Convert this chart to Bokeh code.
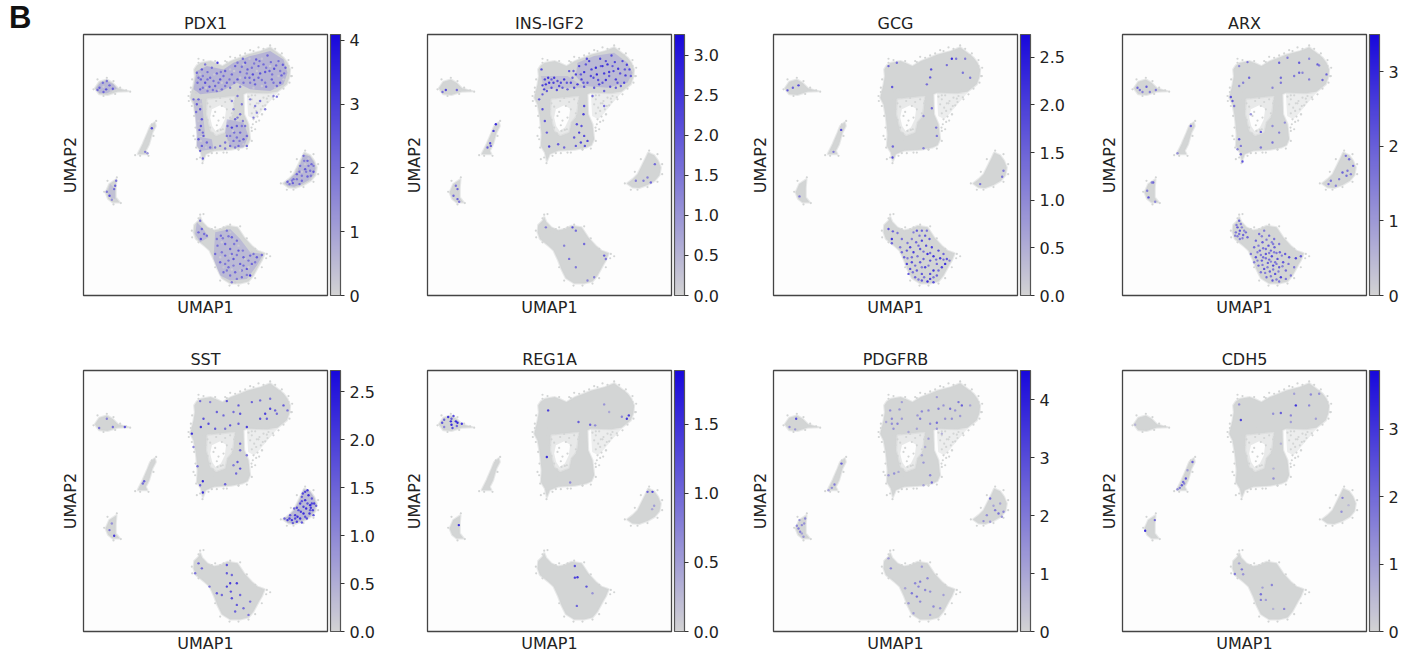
from bokeh.plotting import figure
from bokeh.layouts import row, column
from bokeh.models import LinearColorMapper, ColorBar, FixedTicker, PrintfTickFormatter, Div, ColumnDataSource
from bokeh.transform import transform
from bokeh.embed import file_html
from bokeh.resources import INLINE

GENES = ["PDX1", "INS-IGF2", "GCG", "ARX", "SST", "REG1A", "PDGFRB", "CDH5"]
VMAX = [4.09, 3.26, 2.74, 3.5, 2.72, 1.89, 4.5, 3.87]
TICKS = [[0, 1, 2, 3, 4], [0, .5, 1, 1.5, 2, 2.5, 3], [0, .5, 1, 1.5, 2, 2.5], [0, 1, 2, 3],
         [0, .5, 1, 1.5, 2, 2.5], [0, .5, 1, 1.5], [0, 1, 2, 3, 4], [0, 1, 2, 3]]
TICK_FORMAT = ["%d", "%.1f", "%.1f", "%d", "%.1f", "%.1f", "%d", "%d"]

# Grey cloud of all cells (UMAP position on a 0-732 / 0-785 scale)
MAIN_OUTER = [(332,680),(340,692),(352,700),(382,705),(400,698),(417,690),(442,705),(470,716),(492,725),(532,735),(560,747),(582,730),(600,716),(612,700),
              (620,680),(618,658),(610,635),(582,613),(552,608),(490,610),(480,605),(482,545),(495,515),(500,470),(492,452),(477,445),
              (442,438),(392,435),(367,425),(358,403),(352,430),(340,450),(342,485),(337,535),(330,575),(320,595),
              (330,635),(334,660)]
MAIN_HOLE = [(370,592),(455,600),(448,540),(432,520),(425,490),(398,480),(380,495),(368,545)]
HOLE_CENTRE = [(385,560),(410,572),(428,562),(424,530),(412,505),(396,495),(386,510),(380,535)]
ISLET = [(34,623),(47,643),(70,650),(87,640),(104,623),(137,614),(102,613),(72,603),(47,605)]
STRIP = [(214,522),(217,510),(207,490),(197,455),(187,435),(192,425),(162,425),(177,455),(192,490),(200,510)]
CRESCENT = [(99,350),(97,325),(97,295),(109,280),(87,280),(74,290),(66,310),(77,335)]
RIGHT_LOBE = [(662,430),(680,422),(692,405),(700,385),(696,362),(682,345),(660,332),(635,323),(615,325),(598,337),(615,350),(630,365),(645,395),(655,415)]
BOTTOM = [(350,237),(356,222),(372,205),(392,196),(412,200),(432,210),(462,205),(482,175),(505,150),(522,135),(544,127),(535,105),(527,92),(510,60),
          (495,42),(470,36),(440,36),(415,52),(402,78),(392,105),(378,135),(362,150),(337,170),(330,190),(332,212),(345,225)]
# Loosely filled part of the cloud
LOOSE = [(490,608),(582,610),(552,575),(527,545),(512,530),(494,540)]
SPARSE_X = [360,372,385,398,410,425,440,452,366,380,395,415,430,445,372,390,405,420,380,400,412,388,402,418,392,
            495,505,515,528,540,555,570,585,500,512,525,538,552,568,505,518,532,545,510,522,536,508,518,527,504,
            515,455,470,462,448,435,420,402,378,364,
            345,322,316,425,440,470,500,525,590,615,623,560,505,465,420,385,360,340,
            330,345,520,535,550,380,395,410,560,530,360,368,
            345,360,395,430,455,485,510,540,560,575,595,615,626,625,618,600,
            326,322,315,325,332,336,335,338,350,357,375,400,430,465,490,505,505,
            30,42,70,90,110,128,140,95,60,218,205,155,170,195,210,
            100,62,72,112,90,665,690,704,704,690,660,630,592,610,640,622,
            350,345,325,326,345,385,420,440,470,490,515,550,548,535,515,495,465,438,410,395]
SPARSE_Y = [590,578,596,585,594,582,590,578,560,568,552,570,560,548,528,540,526,535,505,512,498,488,495,500,470,
            598,590,602,585,595,600,590,605,575,565,578,570,582,596,548,555,560,572,530,538,545,515,522,526,505,
            500,585,570,555,540,520,615,612,615,612,
            712,612,585,705,718,722,738,746,722,690,660,620,602,440,430,428,418,410,
            480,510,578,545,592,190,205,200,118,128,245,195,
            700,708,705,702,715,728,735,742,752,742,728,708,685,660,640,622,
            650,625,600,570,540,505,470,445,415,398,420,428,430,438,442,465,495,
            620,650,655,645,625,617,613,606,600,525,515,422,420,420,480,
            355,312,345,278,274,436,425,395,365,342,326,318,337,318,410,372,
            243,232,195,175,160,200,205,213,208,172,140,125,112,85,52,36,30,30,45,85]

# Colour-graded areas where many cells express the gene
AREA_GENE = [0,0,0,0,0,0,0,0,0,1,1,4]
AREA_VALUE = [1.5,1.4,1.3,1.0,1.4,1.4,1.2,1.3,0.9,1.0,0.7,0.8]
AREA_SHAPE = [
    [(340,675),(370,690),(420,680),(450,700),(500,720),(560,735),(600,710),(612,670),(600,635),(560,615),(500,620),(460,640),(410,612),(350,605),(330,620)],
    [(430,530),(480,520),(495,480),(480,445),(440,445),(425,490)],
    [(340,480),(385,470),(390,440),(352,435),(340,450)],
    [(330,590),(355,590),(365,480),(340,480),(335,540)],
    [(36,622),(50,640),(70,645),(90,635),(100,622),(70,608),(48,608)],
    [(660,425),(680,418),(692,400),(696,382),(690,362),(678,348),(655,335),(632,327),(612,330),(604,338),(620,352),(636,368),(650,395)],
    [(395,190),(440,200),(470,170),(500,130),(540,125),(520,90),(490,50),(440,45),(410,60),(390,110)],
    [(340,220),(360,200),(375,175),(350,160),(335,185)],
    [(80,335),(95,320),(95,290),(80,295),(72,310)],
    [(450,700),(500,720),(560,730),(600,700),(615,670),(600,640),(540,625),(470,630),(445,660)],
    [(340,660),(420,660),(450,640),(480,625),(430,625),(350,620)],
    [(660,428),(680,420),(692,402),(697,382),(692,362),(680,347),(655,333),(632,325),(612,328),(602,338),(618,350),(634,368),(648,395)],
]

PDX1_CELLS = [(455,690,2.6),(470,672,2.3),(485,700,2.8),(498,655,2.5),(505,685,2.2),(518,710,2.7),(530,668,2.9),(540,695,2.4),(552,722,2.5),(565,650,2.7),
    (572,682,3.0),(585,705,2.3),(594,662,2.6),(606,685,2.5),(480,640,2.2),(515,635,2.6),(548,628,2.4),(580,630,2.3),(462,650,2.9),(508,665,3.1),
    (535,648,2.2),(558,675,2.6),(590,640,2.8),(445,665,2.4),(430,640,2.5),(425,675,2.6),(410,650,2.9),(395,630,2.5),(380,655,2.4),(365,640,3.0),
    (350,620,2.6),(340,670,2.5),(355,680,2.8),(372,672,2.3),(388,618,2.2),(402,700,3.6),(492,680,2.7),(478,712,2.4),(525,690,2.6),(545,672,2.8),
    (562,702,2.3),(598,694,2.7),(512,648,2.4),(470,628,2.1),(440,625,2.3),(378,628,2.7),(352,650,2.6),(400,668,2.5),(342,640,2.3),(415,620,2.2),
    (330,590,2.5),(340,575,2.8),(350,560,3.1),(355,530,2.9),(352,510,3.0),(345,590,2.6),(358,490,2.4),(338,552,2.3),(348,498,2.6),
    (345,470,2.9),(355,450,2.7),(370,460,2.5),(380,445,2.3),(360,480,2.8),(350,435,2.6),(358,412,2.8),(395,445,2.0),(410,450,2.1),(425,442,2.2),
    (445,505,3.4),(455,530,2.6),(470,490,2.5),(480,470,2.7),(450,465,2.4),(430,480,2.2),(465,450,2.5),(485,510,2.3),(440,450,2.4),(425,460,2.3),
    (470,545,2.4),(490,450,2.6),(490,480,2.5),(460,510,2.7),(475,575,2.2),(462,600,2.2),(445,585,2.0),
    (500,590,2.0),(515,570,2.1),(530,585,2.3),(520,550,2.1),(545,560,2.2),(570,600,2.0),(510,535,2.2),(580,598,2.3),
    (48,625,2.6),(58,640,2.3),(68,620,2.9),(78,632,2.4),(88,622,2.7),(60,612,2.5),(70,645,2.2),(42,618,2.4),
    (205,503,3.2),(185,432,2.0),(192,428,1.5),
    (98,345,2.3),(92,320,2.4),(78,300,3.1),(85,288,1.6),(70,312,2.2),(95,330,2.7),
    (660,420,2.3),(672,405,2.6),(684,395,2.4),(690,372,2.7),(665,380,2.8),(650,390,2.3),(640,365,2.5),(672,358,2.6),(655,345,2.4),(628,338,2.7),
    (612,342,2.6),(630,350,2.3),(680,375,2.2),(648,335,2.4),
    (350,225,2.2),(355,200,2.6),(345,190,2.4),(362,185,2.3),(352,170,3.0),(370,180,2.4),
    (412,180,2.5),(430,195,2.3),(445,175,2.6),(460,165,2.4),(402,150,2.3),(425,155,2.7),(440,140,2.6),(465,135,2.8),(480,115,2.6),(500,120,2.4),
    (520,115,2.7),(535,122,2.3),(505,95,2.5),(490,80,2.8),(470,95,2.6),(450,110,2.9),(425,120,2.4),(410,100,2.5),(435,85,2.3),(455,70,2.5),
    (475,55,2.4),(500,60,3.6),(440,60,2.2),(420,70,2.3),(395,125,2.4),
    (462,700,2.0),(475,688,2.2),(490,668,2.1),(512,698,2.0),(528,705,2.3),(548,685,2.1),(566,665,2.2),(578,692,2.4),(590,675,2.0),(602,668,2.2),
    (525,655,2.4),(545,640,2.1),(570,640,2.2),(500,640,2.0),(485,655,2.3),(452,640,2.0),(438,650,2.2),(420,660,2.3),(405,640,2.1),(390,645,2.2),
    (372,650,2.3),(358,660,2.0),(345,655,2.2),(358,625,2.2),(372,615,2.0),(400,615,2.0),(425,630,2.1),(412,672,2.0),(385,685,2.3),(365,695,2.2),
    (450,560,2.0),(462,535,2.2),(478,525,2.0),(452,490,2.3),(440,480,2.0),(460,475,2.2),(475,510,2.1),(432,510,2.3),(468,465,2.0),(455,445,2.0),
    (418,172,2.0),(435,178,2.2),(452,155,2.1),(415,130,2.0),(435,105,2.2),(460,122,2.0),(478,135,2.1),(495,105,2.2),(515,100,2.0),(475,75,2.2),
    (450,90,2.0),(425,95,2.1),(460,50,2.0),(480,90,2.3),(400,170,2.0),(445,125,2.3),(510,125,2.2),(490,62,2.0),(430,75,2.1),(445,40,2.0),
    (625,345,2.0),(640,350,2.2),(655,360,2.1),(668,372,2.0),(675,390,2.2),(662,405,2.0),(648,372,2.3),(682,360,2.0),(690,390,2.1),(618,335,2.2),
    # cells that stay near zero inside the coloured areas
    (480,695,0.1),(498,712,0.2),(520,675,0.1),(535,712,0.2),(560,690,0.1),(585,660,0.2),(600,650,0.1),(510,625,0.2),(470,655,0.1),(440,680,0.2),
    (415,640,0.1),(392,665,0.2),(368,625,0.1),(350,665,0.2),(338,610,0.1),(465,620,0.2),(535,630,0.1),(575,625,0.2),(452,675,0.1),(405,618,0.2),
    (448,495,0.1),(470,525,0.2),(440,535,0.1),(480,455,0.2),(435,462,0.1),(368,445,0.2),(352,465,0.1),(345,525,0.2),(352,575,0.1),
    (415,160,0.1),(440,190,0.2),(465,150,0.1),(440,120,0.2),(410,115,0.1),(485,110,0.2),(505,130,0.1),(470,75,0.2),(445,78,0.1),(420,85,0.2),(495,85,0.1),(455,40,0.2),
    (640,378,0.1),(665,395,0.2),(655,372,0.1),(680,350,0.2),(620,342,0.1),(675,412,0.2),(60,628,0.1),(82,615,0.2)]
INS_CELLS = [(455,690,2.6),(470,672,2.9),(485,705,2.7),(498,655,2.4),(505,685,3.1),(518,712,2.6),(530,668,2.8),(540,695,3.0),(552,722,2.5),(565,650,2.7),
    (572,682,2.9),(585,705,2.5),(594,662,2.7),(606,680,2.6),(480,640,2.3),(515,635,2.6),(548,628,2.4),(580,630,2.3),(462,650,2.8),(508,665,3.2),
    (535,648,2.9),(558,675,2.6),(590,640,2.5),(445,665,2.7),(430,640,2.6),(425,675,2.3),(410,650,2.9),(395,630,2.5),(380,655,2.8),(365,640,3.0),
    (350,620,2.7),(342,680,2.6),(355,635,2.9),(372,625,2.4),(388,618,2.5),(492,680,2.7),(478,712,2.4),(525,690,2.9),(545,672,2.8),(562,702,2.6),
    (598,694,2.7),(512,648,2.4),(470,628,2.3),(440,625,2.5),(378,640,2.7),(352,650,2.6),(400,640,2.5),(420,620,2.2),(450,635,2.8),(500,625,2.3),
    (530,615,2.1),(565,625,2.2),(345,632,2.8),(362,655,2.9),(345,605,2.3),
    (475,695,2.3),(490,660,2.5),(520,690,2.2),(535,705,2.4),(555,690,2.2),(578,668,2.4),(592,680,2.2),(525,640,2.3),(545,660,2.2),(570,640,2.3),
    (468,640,2.2),(435,655,2.2),(418,640,2.3),(405,625,2.2),(390,645,2.4),(372,650,2.2),(358,615,2.3),(438,675,2.1),(460,665,2.2),(610,660,2.1),
    (335,590,2.2),(345,560,2.5),(352,525,2.4),(358,490,2.2),(470,570,2.6),(468,545,2.8),(462,510,2.4),(448,515,2.5),(455,490,2.8),(470,480,2.5),
    (480,465,2.7),(460,460,2.6),(445,450,2.3),(472,450,2.4),(365,448,2.7),(392,455,2.2),(410,445,2.0),(440,475,2.3),(530,570,1.9),(495,600,2.0),
    (55,618,2.6),(45,612,1.9),(88,618,2.0),
    (205,515,3.2),(198,495,2.7),(188,458,2.5),(180,445,2.2),(190,450,2.0),
    (90,320,2.1),(85,330,1.8),(78,300,2.0),(90,290,2.2),(95,282,1.8),
    (682,395,2.0),(670,340,2.0),(648,345,1.6),(625,345,1.6),(660,355,1.5),
    (355,205,1.6),(435,205,2.5),(445,195,2.0),(470,155,2.0),(425,110,1.8),(445,85,1.7),(480,45,1.5),(530,120,2.2),(535,110,1.7),(500,55,1.5),(410,150,1.6)]
GCG_CELLS = [(345,690,1.8),(370,700,1.6),(535,712,2.6),(548,712,1.5),(575,712,1.4),(473,680,2.1),(470,656,1.9),(460,635,1.6),(520,693,1.6),(568,670,1.5),
    (590,655,1.5),(356,627,2.0),(475,563,1.7),(450,540,1.3),(488,505,1.5),(490,480,1.5),(358,448,1.7),(450,443,1.3),(357,415,2.1),
    (42,617,2.0),(58,625,1.8),(75,632,2.1),(203,498,2.1),(180,432,1.4),(78,298,1.4),(620,335,1.5),(686,357,1.5),(690,375,1.4),
    (345,200,2.0),(358,193,1.8),(355,170,2.5),(372,188,1.5),(355,157,1.8),(385,170,1.6),(430,195,2.0),(420,190,1.4),(445,195,1.8),(455,180,2.0),
    (468,170,1.9),(445,165,2.3),(428,160,1.7),(410,145,2.2),(400,135,1.9),(420,130,2.4),(440,140,2.0),(458,150,2.2),(475,145,2.3),(495,135,2.1),
    (510,125,1.8),(520,110,2.0),(500,112,2.4),(480,118,2.5),(462,125,2.6),(450,110,1.8),(470,105,2.0),(440,100,1.9),(415,100,2.1),(400,95,2.3),
    (392,115,1.8),(410,80,2.1),(430,75,1.9),(455,85,2.2),(480,75,2.5),(505,85,2.3),(490,60,1.8),(470,50,2.3),(480,40,2.1),(462,42,2.6),
    (445,45,1.9),(425,55,1.7),(445,65,2.0),(405,65,2.0),(470,65,2.1),(490,95,1.7),(515,95,2.6),(528,105,1.4),(385,130,1.6),(380,145,1.5),
    (438,180,1.5),(460,195,1.6),(415,170,1.4),(402,158,1.5),(435,150,1.6),(450,132,1.5),(470,128,1.6),(488,108,1.5),(510,108,1.6),(432,118,1.5),
    (415,115,1.6),(402,112,1.4),(425,90,1.6),(445,85,1.4),(465,90,1.5),(495,75,1.6),(480,55,1.5),(452,55,1.5),(435,48,1.4),(418,70,1.5)]
ARX_CELLS = [(375,702,1.9),(350,690,1.5),(470,700,2.3),(495,715,1.7),(530,700,2.4),(560,712,1.5),(590,692,1.8),(612,665,2.3),(600,648,2.1),(585,695,2.4),
    (530,670,2.2),(515,660,1.8),(540,670,1.6),(475,655,2.1),(475,640,1.9),(560,650,1.7),(380,655,2.2),(362,640,1.7),(350,630,1.5),(450,625,1.6),
    (325,597,2.6),(330,585,2.4),(335,570,1.9),(385,545,1.3),(415,492,2.5),(487,520,1.4),(450,510,1.5),(350,470,2.4),(355,450,1.8),(360,403,2.7),
    (355,425,2.2),(450,460,2.0),(470,490,1.7),(415,445,1.8),(345,440,1.6),
    (45,625,2.2),(52,618,1.9),(72,628,2.4),(82,612,1.7),(100,618,1.8),(60,612,1.6),(205,510,2.4),(165,428,1.4),
    (92,340,2.3),(78,295,2.6),(74,315,1.8),(98,282,1.5),(88,340,1.6),
    (670,420,1.9),(680,410,2.0),(692,390,2.2),(675,375,1.9),(660,370,2.3),(672,360,2.1),(650,350,1.7),(625,345,1.9),(618,335,2.0),(640,330,1.6),(685,365,1.7),
    (350,225,2.2),(345,205,2.4),(352,195,2.6),(362,182,2.2),(340,190,1.9),(370,190,2.0),(352,170,1.8),(375,175,2.2),(345,178,1.7),(358,205,1.6),
    (410,185,2.0),(425,195,1.8),(440,180,2.1),(455,170,2.0),(470,155,1.9),(400,165,2.2),(420,160,2.4),(438,150,2.6),(456,145,2.3),(472,130,2.2),
    (488,125,2.4),(500,115,2.6),(520,112,2.8),(535,118,2.3),(395,145,2.1),(412,135,2.3),(430,125,2.5),(448,118,2.7),(465,110,2.6),(482,100,2.5),
    (498,95,2.0),(515,85,1.8),(385,125,1.9),(400,115,2.6),(418,105,2.4),(436,98,2.3),(452,90,2.8),(470,85,2.4),(490,75,2.1),(505,60,1.8),
    (408,90,2.2),(425,80,2.5),(442,72,2.3),(458,65,2.6),(475,55,2.9),(490,50,1.9),(415,70,1.9),(432,55,2.1),(450,45,2.5),(470,42,1.9),
    (430,140,2.0),(445,135,2.2),(462,128,1.8),(422,115,2.0),(440,108,2.1),(458,100,1.9),(478,120,1.7),(408,150,1.8),(395,100,1.7),(452,155,1.8),
    (418,178,1.7),(432,168,1.8),(448,160,1.6),(405,130,1.7),(422,142,1.9),(440,128,1.8),(455,130,1.7),(415,122,1.8),(430,112,1.9),(445,102,1.7),
    (405,105,1.7),(420,92,1.8),(435,85,1.7),(452,78,1.8),(468,72,1.7),(480,88,1.6),(462,95,1.8),(428,68,1.7),(445,58,1.8),(462,48,1.7),
    (342,212,1.8),(355,215,1.7),(350,185,1.9),(365,195,1.6),(338,180,1.7),(360,172,1.7)]
SST_CELLS = [(350,693,1.6),(380,690,1.3),(430,693,2.1),(465,680,1.9),(505,690,1.8),(530,695,1.6),(560,700,1.5),(600,680,1.9),(612,665,1.5),(560,670,2.2),
    (575,665,1.8),(545,655,2.3),(470,655,2.0),(450,660,1.6),(400,660,1.8),(420,650,1.7),(352,615,2.4),(375,625,2.1),(395,610,1.9),(360,640,2.0),
    (490,615,2.3),(465,625,1.8),(440,620,2.0),(425,610,1.5),(530,640,2.0),(550,640,1.8),(580,655,1.6),(325,595,2.6),(330,555,1.3),(342,497,1.6),
    (358,452,2.7),(358,418,2.6),(350,440,1.8),(470,565,1.8),(470,545,1.6),(490,530,1.5),(462,510,1.9),(450,500,1.4),(470,490,2.0),(458,475,1.7),
    (425,443,1.8),(47,612,1.5),(70,640,1.3),(88,615,1.6),(124,615,2.0),(182,452,1.8),(178,445,1.6),(78,305,1.5),(92,288,2.4),(85,325,1.1),
    (345,205,1.8),(355,190,1.7),(335,175,1.5),(430,200,2.0),(430,175,1.9),(445,170,1.7),(440,145,2.4),(460,145,2.3),(430,135,2.2),(400,115,1.9),
    (415,110,1.7),(442,120,2.0),(445,100,2.1),(470,110,1.7),(460,80,1.9),(455,60,1.8),(480,70,1.6),(500,90,1.5),(495,50,1.5),(378,135,1.5),
    (665,420,2.2),(675,410,2.5),(685,400,1.9),(692,385,2.3),(680,380,2.6),(665,395,2.4),(655,405,1.8),(650,385,2.3),(668,370,2.5),(688,365,2.2),
    (678,355,2.4),(660,355,2.6),(645,365,2.0),(635,350,2.3),(650,340,2.5),(670,340,2.1),(625,335,2.4),(612,335,2.3),(640,330,2.2),(620,350,1.9),
    (632,370,1.7),(655,328,2.0),(690,350,2.0),(672,425,2.4),(660,375,2.2),(642,345,2.5),(682,372,2.3),(698,378,1.8),(603,340,1.7),(628,326,1.9),
    (658,415,2.1),(672,385,2.0),(655,392,1.9),(640,372,2.2),(652,360,2.3),(665,345,2.0),(685,385,2.2),(680,365,1.9),(635,340,2.1),(618,340,2.2)]
REG1A_CELLS = [(362,665,1.6),(358,525,1.8),(453,630,1.3),(488,622,1.2),(503,620,0.8),(530,683,0.7),(545,660,0.5),(583,646,0.9),(604,650,1.6),(598,640,1.7),
    (428,448,0.8),(44,628,1.4),(50,637,1.2),(62,645,1.7),(70,632,1.8),(72,622,1.9),(78,648,1.5),(85,632,1.8),(90,628,1.9),(75,612,1.4),(88,618,1.2),(103,625,1.7),(72,640,1.3),(50,615,0.9),
    (94,320,1.8),(660,420,1.2),(675,420,1.5),(680,378,0.6),(674,368,0.5),
    (442,197,1.4),(442,162,1.6),(450,163,1.7),(477,135,1.4),(495,115,0.7),(448,77,1.2)]
PDGFRB_CELLS = [(350,665,1.8),(378,668,1.6),(355,640,2.0),(372,625,2.1),(360,610,1.7),(385,640,1.5),(355,625,1.8),(338,630,1.2),(385,690,1.4),(440,640,2.3),
    (445,662,2.0),(432,650,1.6),(465,665,1.9),(490,705,1.4),(495,670,2.2),(510,680,1.7),(530,670,2.5),(555,690,2.4),(565,680,3.1),(545,665,1.6),
    (470,625,1.8),(490,628,2.6),(515,640,1.7),(535,640,1.8),(560,648,1.5),(590,680,1.3),(430,610,1.3),(405,600,1.2),(465,580,1.5),(455,555,1.2),
    (490,610,1.6),(505,595,1.0),(445,530,1.2),(450,508,1.6),(470,470,2.0),(475,448,2.5),(362,475,1.8),(345,470,1.4),(375,480,1.2),(450,440,1.3),
    (68,640,3.5),(48,615,1.8),(65,608,1.6),(204,505,3.0),(183,442,2.3),(175,432,1.8),(165,425,1.3),
    (95,340,2.0),(78,335,1.7),(85,320,1.9),(75,310,2.3),(80,300,2.2),(90,285,1.6),(70,318,2.0),(92,325,1.7),(85,295,1.4),
    (650,400,2.7),(675,355,2.6),(665,365,2.2),(690,360,2.0),(640,350,1.8),(650,330,1.5),(630,332,1.7),(660,378,1.3),(680,385,1.3),(685,345,1.7),
    (352,190,2.0),(345,220,1.5),(440,150,2.3),(425,145,2.0),(415,115,2.4),(430,105,2.6),(440,90,1.9),(455,125,2.0),(470,120,1.8),(480,75,1.9),
    (500,70,1.5),(445,195,1.5),(462,160,1.9),(435,135,2.0),(405,85,1.5),(420,55,1.4),(470,50,1.3),(395,130,1.3),(510,110,1.4)]
CDH5_CELLS = [(350,683,1.5),(515,715,1.2),(565,713,1.7),(590,715,1.5),(520,680,3.6),(560,680,1.7),(475,657,2.6),(452,655,1.5),(505,650,1.8),(580,640,1.2),(355,636,3.2),(505,630,1.2),
    (475,565,0.8),(453,490,0.8),(453,460,1.5),(38,622,0.7),
    (210,510,2.5),(195,485,1.2),(190,460,2.8),(182,450,2.3),(178,440,2.6),(172,432,2.0),(165,428,1.6),(185,445,1.8),
    (97,335,2.4),(68,303,3.7),
    (660,402,1.8),(678,380,0.6),(657,360,1.5),
    (350,205,1.2),(358,187,1.9),(337,173,2.0),(362,172,1.4),(448,140,1.8),(420,132,1.2),(415,112,2.2),(415,95,1.8),(430,95,1.2),(452,68,0.8),(485,68,1.7)]
CELLS = [PDX1_CELLS, INS_CELLS, GCG_CELLS, ARX_CELLS, SST_CELLS, REG1A_CELLS, PDGFRB_CELLS, CDH5_CELLS]

# Page positions of the panels
FRAME_W, FRAME_H = 244, 261
LEFT = [83, 42, 38, 37]
RIGHT = [58, 64, 68, 34]
TOP = [34, 26]
BOTTOM_ROW = [49, 23]

GREY = (211, 211, 211)
BLUE = (24, 8, 220)
PALETTE = ["#%02x%02x%02x" % tuple(round(GREY[c] + (BLUE[c] - GREY[c]) * i / 255) for c in range(3)) for i in range(256)]
FONT = "DejaVu Sans"
INK = "#222222"
CLOUD = "#d3d5d5"


def split(shape):
    return [pt[0] for pt in shape], [pt[1] for pt in shape]


def panel(i):
    r, c = divmod(i, 4)
    p = figure(frame_width=FRAME_W, frame_height=FRAME_H, x_range=(0, 732), y_range=(0, 785),
               output_backend="svg", toolbar_location=None,
               min_border_left=LEFT[c], min_border_right=RIGHT[c], min_border_top=TOP[r], min_border_bottom=BOTTOM_ROW[r],
               background_fill_color="#fdfdfd", border_fill_color=None,
               outline_line_color="#444444", outline_line_width=1.3)
    p.grid.visible = False
    p.title.text = GENES[i]
    p.title.align = "center"
    p.title.text_font = FONT
    p.title.text_font_size = "16px"
    p.title.text_font_style = "normal"
    p.title.text_color = INK
    p.title.standoff = 4
    for ax, lab, gap in ((p.xaxis[0], "UMAP1", 2), (p.yaxis[0], "UMAP2", 4)):
        ax.ticker = FixedTicker(ticks=[])
        ax.axis_label = lab
        ax.axis_label_text_font = FONT
        ax.axis_label_text_font_size = "16px"
        ax.axis_label_text_font_style = "normal"
        ax.axis_label_text_color = INK
        ax.axis_label_standoff = gap
        ax.axis_line_color = None
        ax.major_tick_line_color = None
        ax.minor_tick_line_color = None
        ax.major_label_text_font_size = "0px"
        ax.major_label_standoff = 0

    mapper = LinearColorMapper(palette=PALETTE, low=0, high=VMAX[i])

    lx, ly = split(LOOSE)
    p.patch(lx, ly, fill_color=CLOUD, fill_alpha=0.4, line_color=None)
    ox, oy = split(MAIN_OUTER)
    hx, hy = split(MAIN_HOLE)
    cx, cy = split(HOLE_CENTRE)
    p.multi_polygons(xs=[[[hx, cx]]], ys=[[[hy, cy]]], fill_color=CLOUD, fill_alpha=0.5, line_color=None)
    p.multi_polygons(xs=[[[ox, hx]]], ys=[[[oy, hy]]], fill_color=CLOUD, line_color=CLOUD, line_alpha=0.5, line_width=2)
    shapes = [split(s) for s in (ISLET, STRIP, CRESCENT, RIGHT_LOBE, BOTTOM)]
    p.patches([s[0] for s in shapes], [s[1] for s in shapes], fill_color=CLOUD, line_color=CLOUD, line_alpha=0.5, line_width=2)
    p.scatter(SPARSE_X, SPARSE_Y, size=2.2, fill_color=CLOUD, line_color=None)

    idx = [k for k, g in enumerate(AREA_GENE) if g == i]
    if idx:
        areas = [split(AREA_SHAPE[k]) for k in idx]
        src = ColumnDataSource(dict(xs=[a[0] for a in areas], ys=[a[1] for a in areas], v=[AREA_VALUE[k] for k in idx]))
        p.patches("xs", "ys", source=src, fill_color=transform("v", mapper), line_color=None, fill_alpha=0.42)

    cells = CELLS[i]
    src = ColumnDataSource(dict(x=[q[0] for q in cells], y=[q[1] for q in cells], v=[q[2] for q in cells]))
    p.scatter("x", "y", source=src, size=2.4, fill_color=transform("v", mapper), line_color=None, fill_alpha=0.85)

    cb = ColorBar(color_mapper=mapper, width=10, padding=0, margin=0, location=(3, 0),
                  ticker=FixedTicker(ticks=TICKS[i]), formatter=PrintfTickFormatter(format=TICK_FORMAT[i]),
                  major_tick_in=0, major_tick_out=4, major_tick_line_color="#333333", minor_tick_line_color=None,
                  bar_line_color="#555555", bar_line_width=1.2, label_standoff=5,
                  major_label_text_font=FONT, major_label_text_font_size="16px", major_label_text_color=INK,
                  background_fill_color=None, border_line_color=None)
    p.add_layout(cb, "right")
    return p


plots = [panel(i) for i in range(8)]
letter = Div(text='<div style="position:absolute;left:9px;top:2px;z-index:10;font:bold 31px/31px \'Liberation Sans\';color:#111111;white-space:nowrap">B</div>',
             width=1, height=0, margin=0)
page = column(letter, row(*plots[:4]), row(*plots[4:]))
open("out.html", "w").write(file_html(page, INLINE))
